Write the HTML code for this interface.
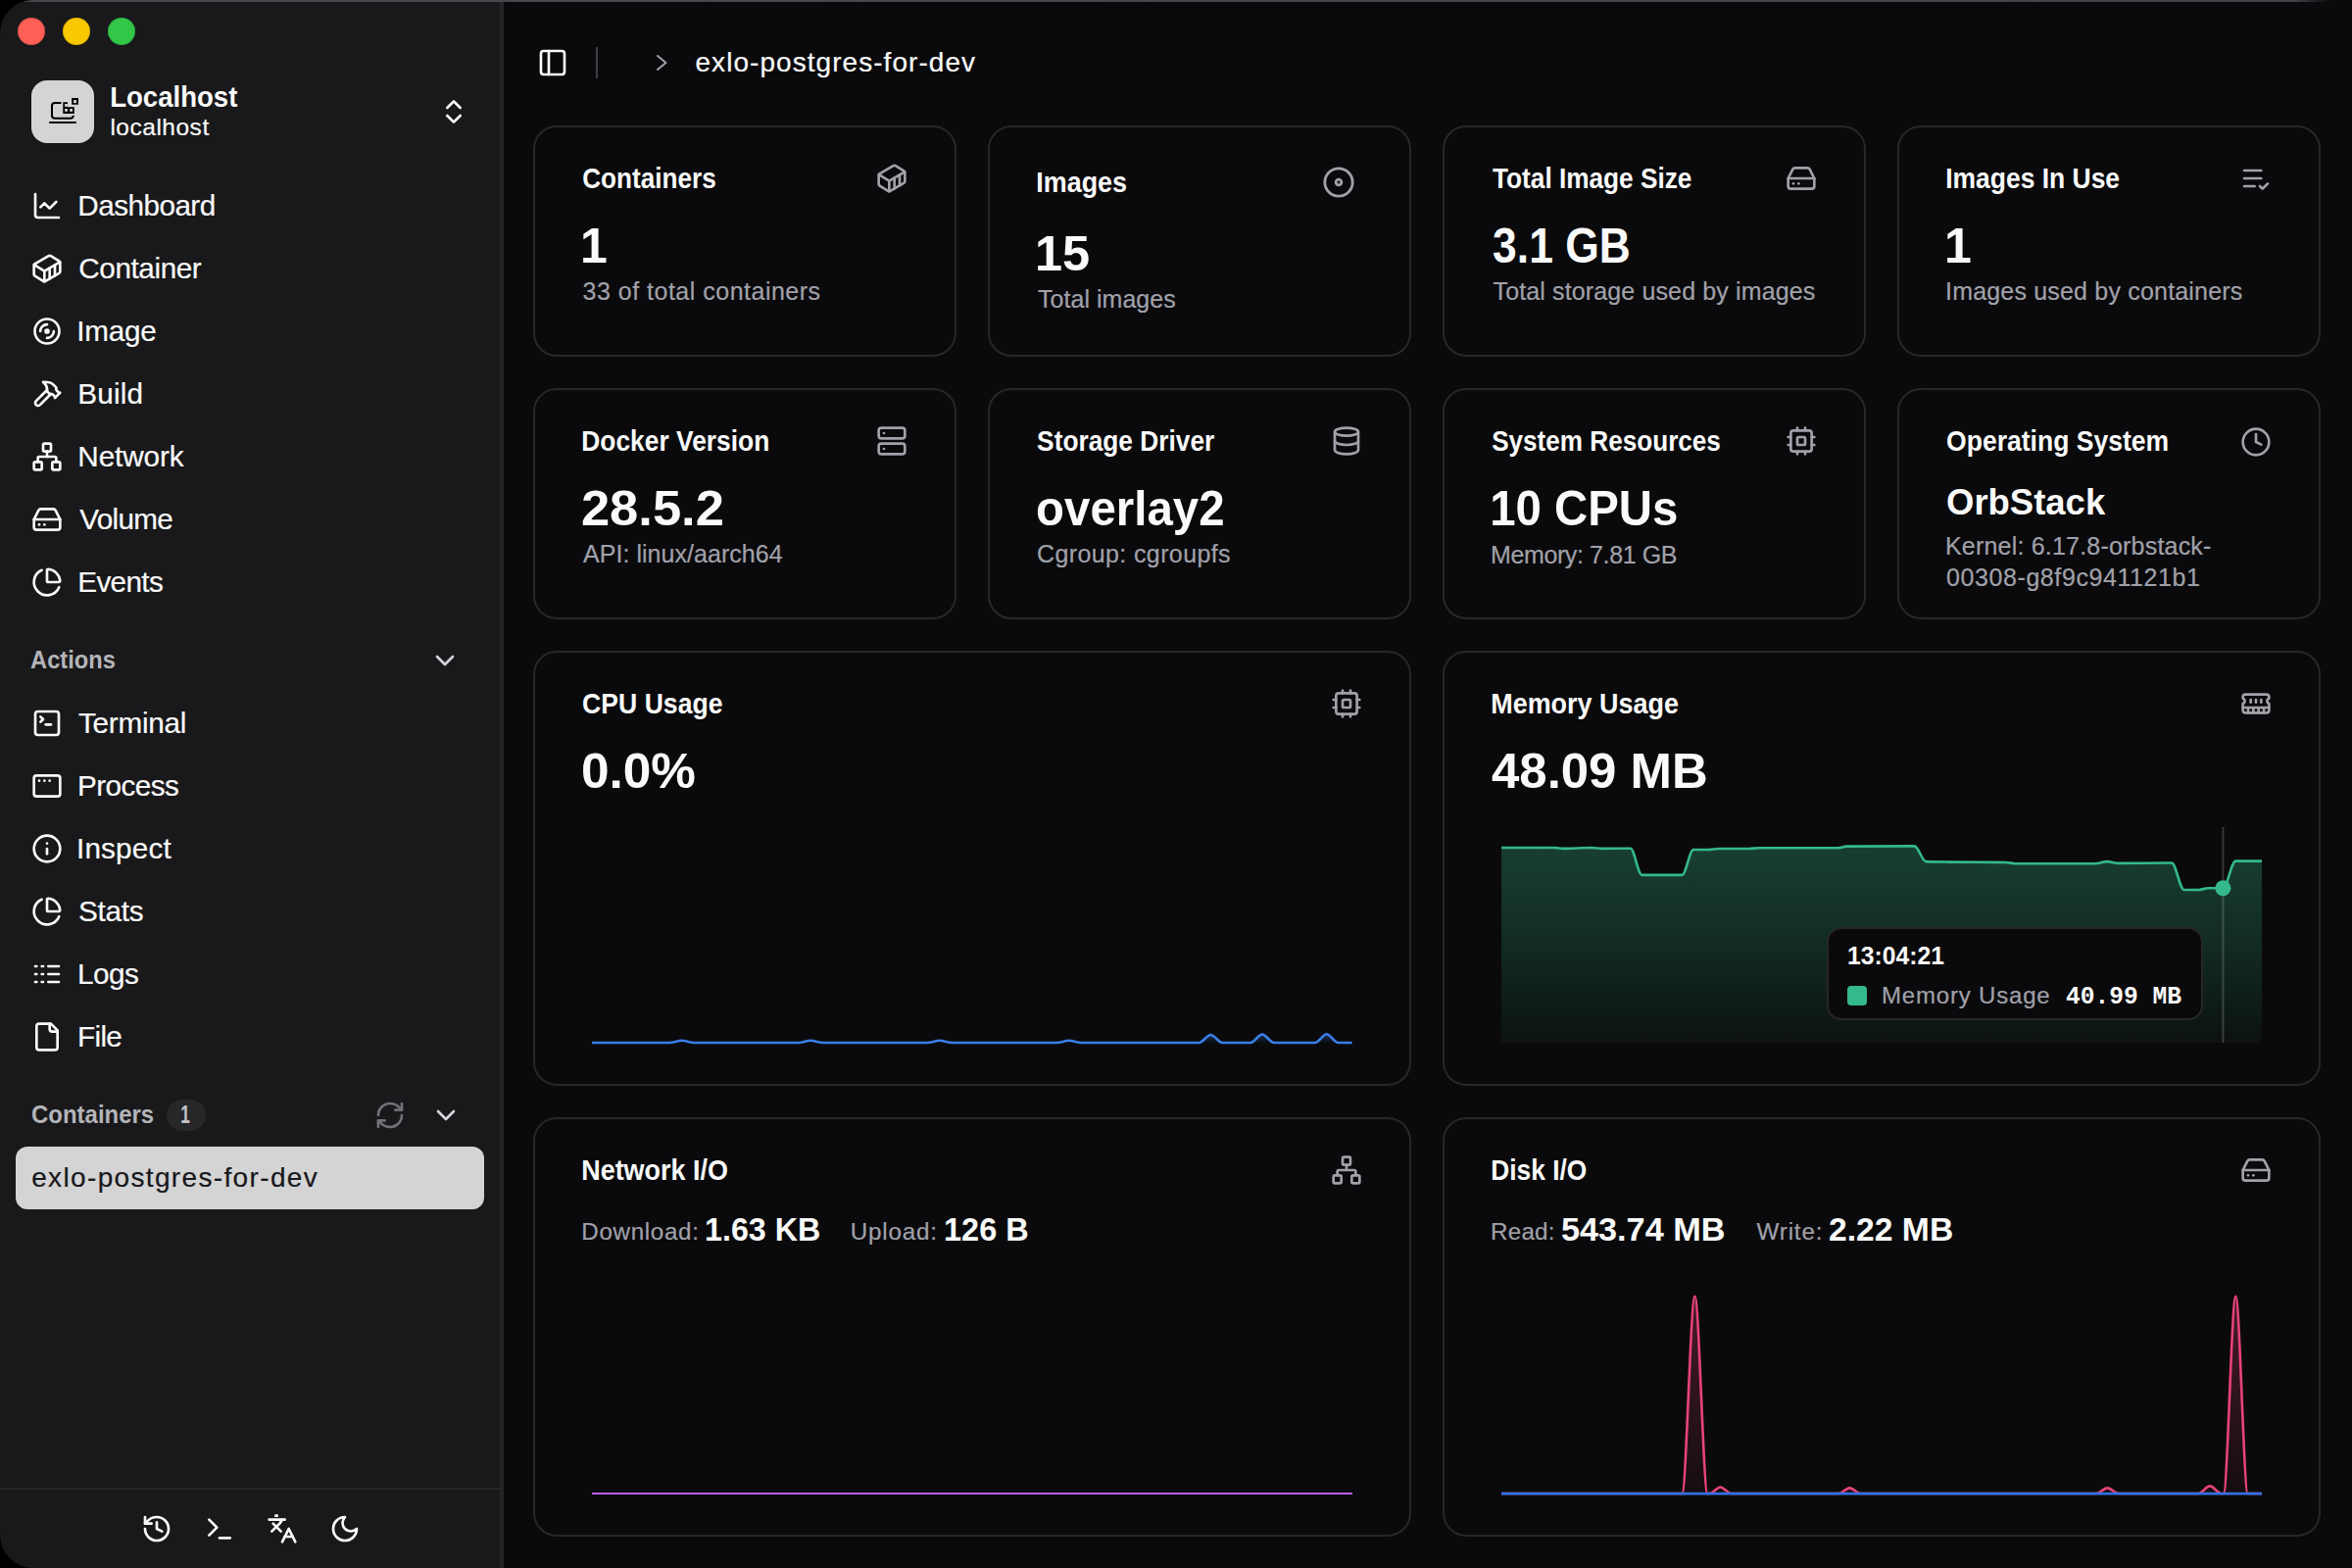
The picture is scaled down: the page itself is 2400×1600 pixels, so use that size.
<!DOCTYPE html>
<html><head><meta charset="utf-8"><title>Dashboard</title>
<style>
html,body{margin:0;padding:0;background:#000;width:2400px;height:1600px;overflow:hidden}
body{font-family:"Liberation Sans",sans-serif;}
.win{position:absolute;left:0;top:0;width:2400px;height:1600px;border-radius:34px 0 0 34px;overflow:hidden;background:#0a0a0c}
.abs,.tx,.ic,.card{position:absolute}
.tx{white-space:pre}
.card{box-sizing:border-box;border:2px solid #27272a;border-radius:24px;background:#0a0a0c}
</style></head><body>
<div class="win">
 <div class="abs" style="left:0;top:0;width:510px;height:1600px;background:#19191b"></div>
 <div class="abs" style="left:510px;top:0;width:4px;height:1600px;background:#262628"></div>
 <div class="abs" style="left:0;top:1518px;width:510px;height:2px;background:#262628"></div>
 <div class="abs" style="left:0;top:0;width:2400px;height:2px;background:linear-gradient(90deg,#2a2a2d 0px,#48484c 40px,#44444a 2340px,rgba(60,60,64,0) 2378px)"></div>
 <div class="abs" style="left:18px;top:18px;width:28px;height:28px;border-radius:50%;background:#ff5f57;box-shadow:inset 0 0 0 1px rgba(0,0,0,0.12)"></div>
 <div class="abs" style="left:64px;top:18px;width:28px;height:28px;border-radius:50%;background:#fac800;box-shadow:inset 0 0 0 1px rgba(0,0,0,0.1)"></div>
 <div class="abs" style="left:110px;top:18px;width:28px;height:28px;border-radius:50%;background:#33c748;box-shadow:inset 0 0 0 1px rgba(0,0,0,0.12)"></div>
 <div class="abs" style="left:32px;top:82px;width:64px;height:64px;border-radius:16px;background:#d4d4d4"></div>
 <svg class="abs" style="left:32px;top:82px" width="64" height="64" viewBox="32 82 64 64">
<path d="M61.7,105 H56 a3,3 0 0 0 -3,3 V117.7 a3,3 0 0 0 3,3 H71.8 a3,3 0 0 0 3,-3 V118.4" fill="none" stroke="#000" stroke-width="2" stroke-linecap="round"/>
<path d="M64.3,104.2 H69 V109.2 H75.8 V115.9 H64.3 Z" fill="#000"/>
<rect x="66.1" y="106" width="2.8" height="2.8" fill="#d4d4d4"/><rect x="66.1" y="111" width="2.8" height="2.8" fill="#d4d4d4"/><rect x="71.2" y="111" width="2.8" height="2.8" fill="#d4d4d4"/>
<rect x="73.2" y="100" width="6.7" height="6.7" fill="#000"/><rect x="75.1" y="102.1" width="2.9" height="3" fill="#d4d4d4"/>
<line x1="51" y1="125" x2="77" y2="125" stroke="#000" stroke-width="2" stroke-linecap="round"/>
</svg>
 <div class="abs" style="left:170px;top:1122px;width:40px;height:32px;border-radius:16px;background:#27272a"></div>
 <div class="abs" style="left:16px;top:1170px;width:478px;height:64px;border-radius:12px;background:#d4d4d4"></div>
 <div class="abs" style="left:608px;top:48px;width:2px;height:32px;background:#3f3f46"></div>
 <svg class="abs" style="left:660px;top:50px" width="30" height="30" viewBox="660 50 30 30"><polyline points="671,57 679.5,64 671,71" fill="none" stroke="#a1a1aa" stroke-width="2" stroke-linecap="round" stroke-linejoin="round"/></svg>
 <div class="card" style="left:544px;top:128px;width:432px;height:236px"></div>
<div class="card" style="left:544px;top:396px;width:432px;height:236px"></div>
<div class="card" style="left:1008px;top:128px;width:432px;height:236px"></div>
<div class="card" style="left:1008px;top:396px;width:432px;height:236px"></div>
<div class="card" style="left:1472px;top:128px;width:432px;height:236px"></div>
<div class="card" style="left:1472px;top:396px;width:432px;height:236px"></div>
<div class="card" style="left:1936px;top:128px;width:432px;height:236px"></div>
<div class="card" style="left:1936px;top:396px;width:432px;height:236px"></div>
<div class="card" style="left:544px;top:664px;width:896px;height:444px"></div>
<div class="card" style="left:1472px;top:664px;width:896px;height:444px"></div>
<div class="card" style="left:544px;top:1140px;width:896px;height:428px"></div>
<div class="card" style="left:1472px;top:1140px;width:896px;height:428px"></div>
 
<svg class="abs" style="left:0;top:0" width="2400" height="1600" viewBox="0 0 2400 1600">
 <defs>
  <linearGradient id="gm" x1="0" y1="863" x2="0" y2="1064" gradientUnits="userSpaceOnUse">
   <stop offset="0" stop-color="#183f32"/><stop offset="0.5" stop-color="#122b23"/><stop offset="1" stop-color="#0c1210"/>
  </linearGradient>
  <linearGradient id="gd" x1="0" y1="1322" x2="0" y2="1524" gradientUnits="userSpaceOnUse">
   <stop offset="0" stop-color="#e8437a" stop-opacity="0.28"/><stop offset="1" stop-color="#e8437a" stop-opacity="0.05"/>
  </linearGradient>
  <linearGradient id="gc" x1="0" y1="1055" x2="0" y2="1064" gradientUnits="userSpaceOnUse">
   <stop offset="0" stop-color="#3a7ee8" stop-opacity="0.35"/><stop offset="1" stop-color="#3a7ee8" stop-opacity="0.02"/>
  </linearGradient>
 </defs>
 <path d="M604.00,1064.00 C630.33,1064.00 656.67,1064.00 683.00,1064.00 C687.23,1064.00 691.47,1061.80 695.70,1061.80 C699.93,1061.80 704.17,1064.00 708.40,1064.00 C743.77,1064.00 779.13,1064.00 814.50,1064.00 C818.73,1064.00 822.97,1061.80 827.20,1061.80 C831.43,1061.80 835.67,1064.00 839.90,1064.00 C875.30,1064.00 910.70,1064.00 946.10,1064.00 C950.33,1064.00 954.57,1061.80 958.80,1061.80 C963.03,1061.80 967.27,1064.00 971.50,1064.00 C1007.03,1064.00 1042.57,1064.00 1078.10,1064.00 C1082.33,1064.00 1086.57,1061.80 1090.80,1061.80 C1095.03,1061.80 1099.27,1064.00 1103.50,1064.00 C1143.47,1064.00 1183.43,1064.00 1223.40,1064.00 C1227.40,1064.00 1231.40,1056.00 1235.40,1056.00 C1239.40,1056.00 1243.40,1064.00 1247.40,1064.00 C1256.93,1064.00 1266.47,1064.00 1276.00,1064.00 C1280.00,1064.00 1284.00,1055.50 1288.00,1055.50 C1292.00,1055.50 1296.00,1064.00 1300.00,1064.00 C1313.97,1064.00 1327.93,1064.00 1341.90,1064.00 C1345.83,1064.00 1349.77,1055.20 1353.70,1055.20 C1357.63,1055.20 1361.57,1064.00 1365.50,1064.00 C1370.20,1064.00 1374.90,1064.00 1379.60,1064.00 Z" fill="url(#gc)" stroke="none"/>
 <path d="M604.00,1064.00 C630.33,1064.00 656.67,1064.00 683.00,1064.00 C687.23,1064.00 691.47,1061.80 695.70,1061.80 C699.93,1061.80 704.17,1064.00 708.40,1064.00 C743.77,1064.00 779.13,1064.00 814.50,1064.00 C818.73,1064.00 822.97,1061.80 827.20,1061.80 C831.43,1061.80 835.67,1064.00 839.90,1064.00 C875.30,1064.00 910.70,1064.00 946.10,1064.00 C950.33,1064.00 954.57,1061.80 958.80,1061.80 C963.03,1061.80 967.27,1064.00 971.50,1064.00 C1007.03,1064.00 1042.57,1064.00 1078.10,1064.00 C1082.33,1064.00 1086.57,1061.80 1090.80,1061.80 C1095.03,1061.80 1099.27,1064.00 1103.50,1064.00 C1143.47,1064.00 1183.43,1064.00 1223.40,1064.00 C1227.40,1064.00 1231.40,1056.00 1235.40,1056.00 C1239.40,1056.00 1243.40,1064.00 1247.40,1064.00 C1256.93,1064.00 1266.47,1064.00 1276.00,1064.00 C1280.00,1064.00 1284.00,1055.50 1288.00,1055.50 C1292.00,1055.50 1296.00,1064.00 1300.00,1064.00 C1313.97,1064.00 1327.93,1064.00 1341.90,1064.00 C1345.83,1064.00 1349.77,1055.20 1353.70,1055.20 C1357.63,1055.20 1361.57,1064.00 1365.50,1064.00 C1370.20,1064.00 1374.90,1064.00 1379.60,1064.00" fill="none" stroke="#3a7ee8" stroke-width="2.6" stroke-linejoin="round" stroke-linecap="butt"/>
 <path d="M1532.10,865.00 C1550.07,865.00 1568.03,865.00 1586.00,865.00 C1589.00,865.00 1592.00,865.90 1595.00,865.90 C1604.53,865.90 1614.07,865.00 1623.60,865.00 C1627.73,865.00 1631.87,865.90 1636.00,865.90 C1645.25,865.90 1654.50,865.70 1663.75,865.70 C1667.63,865.70 1671.52,892.90 1675.40,892.90 C1689.07,892.90 1702.73,892.90 1716.40,892.90 C1720.27,892.90 1724.13,867.00 1728.00,867.00 C1733.07,867.00 1738.13,867.00 1743.20,867.00 C1746.80,867.00 1750.40,866.00 1754.00,866.00 C1764.10,866.00 1774.20,866.00 1784.30,866.00 C1787.87,866.00 1791.43,865.20 1795.00,865.20 C1821.80,865.20 1848.60,865.20 1875.40,865.20 C1878.37,865.20 1881.33,863.62 1884.30,863.60 C1907.40,863.47 1930.50,863.40 1953.60,863.40 C1957.47,863.40 1961.33,878.94 1965.20,879.10 C1973.23,879.43 1981.27,879.49 1989.30,879.60 C2008.33,879.87 2027.37,879.73 2046.40,880.00 C2049.97,880.05 2053.53,881.25 2057.10,881.25 C2083.90,881.25 2110.70,881.25 2137.50,881.25 C2141.67,881.25 2145.83,879.10 2150.00,879.10 C2153.87,879.10 2157.73,880.90 2161.60,880.90 C2179.73,880.90 2197.87,880.50 2216.00,880.50 C2220.20,880.50 2224.40,908.00 2228.60,908.00 C2233.37,908.00 2238.13,908.00 2242.90,908.00 C2246.47,908.00 2250.03,906.25 2253.60,906.25 C2258.53,906.25 2263.47,906.25 2268.40,906.25 C2272.68,906.25 2276.97,878.60 2281.25,878.60 C2290.17,878.60 2299.08,878.60 2308.00,878.60 L2308,1064 L1532.1,1064 Z" fill="url(#gm)"/>
 <line x1="2268.4" y1="844" x2="2268.4" y2="1064" stroke="rgba(161,161,170,0.3)" stroke-width="2"/>
 <path d="M1532.10,865.00 C1550.07,865.00 1568.03,865.00 1586.00,865.00 C1589.00,865.00 1592.00,865.90 1595.00,865.90 C1604.53,865.90 1614.07,865.00 1623.60,865.00 C1627.73,865.00 1631.87,865.90 1636.00,865.90 C1645.25,865.90 1654.50,865.70 1663.75,865.70 C1667.63,865.70 1671.52,892.90 1675.40,892.90 C1689.07,892.90 1702.73,892.90 1716.40,892.90 C1720.27,892.90 1724.13,867.00 1728.00,867.00 C1733.07,867.00 1738.13,867.00 1743.20,867.00 C1746.80,867.00 1750.40,866.00 1754.00,866.00 C1764.10,866.00 1774.20,866.00 1784.30,866.00 C1787.87,866.00 1791.43,865.20 1795.00,865.20 C1821.80,865.20 1848.60,865.20 1875.40,865.20 C1878.37,865.20 1881.33,863.62 1884.30,863.60 C1907.40,863.47 1930.50,863.40 1953.60,863.40 C1957.47,863.40 1961.33,878.94 1965.20,879.10 C1973.23,879.43 1981.27,879.49 1989.30,879.60 C2008.33,879.87 2027.37,879.73 2046.40,880.00 C2049.97,880.05 2053.53,881.25 2057.10,881.25 C2083.90,881.25 2110.70,881.25 2137.50,881.25 C2141.67,881.25 2145.83,879.10 2150.00,879.10 C2153.87,879.10 2157.73,880.90 2161.60,880.90 C2179.73,880.90 2197.87,880.50 2216.00,880.50 C2220.20,880.50 2224.40,908.00 2228.60,908.00 C2233.37,908.00 2238.13,908.00 2242.90,908.00 C2246.47,908.00 2250.03,906.25 2253.60,906.25 C2258.53,906.25 2263.47,906.25 2268.40,906.25 C2272.68,906.25 2276.97,878.60 2281.25,878.60 C2290.17,878.60 2299.08,878.60 2308.00,878.60" fill="none" stroke="#34b98a" stroke-width="2.6" stroke-linejoin="round"/>
 <circle cx="2268.4" cy="906.25" r="8" fill="#34b98a"/>
 <line x1="604" y1="1524" x2="1380" y2="1524" stroke="#bd5ef0" stroke-width="2.2"/>
 <path d="M1532.00,1524.00 C1593.47,1524.00 1654.93,1524.00 1716.40,1524.00 C1720.73,1524.00 1725.07,1322.70 1729.40,1322.70 C1733.73,1322.70 1738.07,1524.00 1742.40,1524.00 C1743.10,1524.00 1743.80,1524.00 1744.50,1524.00 C1748.17,1524.00 1751.83,1517.50 1755.50,1517.50 C1759.17,1517.50 1762.83,1524.00 1766.50,1524.00 C1803.03,1524.00 1839.57,1524.00 1876.10,1524.00 C1879.87,1524.00 1883.63,1518.40 1887.40,1518.40 C1891.17,1518.40 1894.93,1524.00 1898.70,1524.00 C1978.70,1524.00 2058.70,1524.00 2138.70,1524.00 C2142.60,1524.00 2146.50,1518.40 2150.40,1518.40 C2154.30,1518.40 2158.20,1524.00 2162.10,1524.00 C2189.17,1524.00 2216.23,1524.00 2243.30,1524.00 C2247.20,1524.00 2251.10,1516.40 2255.00,1516.40 C2258.90,1516.40 2262.80,1524.00 2266.70,1524.00 C2267.43,1524.00 2268.17,1524.00 2268.90,1524.00 C2273.03,1524.00 2277.17,1322.70 2281.30,1322.70 C2285.43,1322.70 2289.57,1524.00 2293.70,1524.00 C2298.47,1524.00 2303.23,1524.00 2308.00,1524.00 Z" fill="url(#gd)" stroke="none"/>
 <path d="M1532.00,1524.00 C1593.47,1524.00 1654.93,1524.00 1716.40,1524.00 C1720.73,1524.00 1725.07,1322.70 1729.40,1322.70 C1733.73,1322.70 1738.07,1524.00 1742.40,1524.00 C1743.10,1524.00 1743.80,1524.00 1744.50,1524.00 C1748.17,1524.00 1751.83,1517.50 1755.50,1517.50 C1759.17,1517.50 1762.83,1524.00 1766.50,1524.00 C1803.03,1524.00 1839.57,1524.00 1876.10,1524.00 C1879.87,1524.00 1883.63,1518.40 1887.40,1518.40 C1891.17,1518.40 1894.93,1524.00 1898.70,1524.00 C1978.70,1524.00 2058.70,1524.00 2138.70,1524.00 C2142.60,1524.00 2146.50,1518.40 2150.40,1518.40 C2154.30,1518.40 2158.20,1524.00 2162.10,1524.00 C2189.17,1524.00 2216.23,1524.00 2243.30,1524.00 C2247.20,1524.00 2251.10,1516.40 2255.00,1516.40 C2258.90,1516.40 2262.80,1524.00 2266.70,1524.00 C2267.43,1524.00 2268.17,1524.00 2268.90,1524.00 C2273.03,1524.00 2277.17,1322.70 2281.30,1322.70 C2285.43,1322.70 2289.57,1524.00 2293.70,1524.00 C2298.47,1524.00 2303.23,1524.00 2308.00,1524.00" fill="none" stroke="#e8437a" stroke-width="2.6" stroke-linejoin="round"/>
 <line x1="1532" y1="1524.2" x2="2308" y2="1524.2" stroke="#3470e0" stroke-width="2.8"/>
</svg>

 <div class="abs" style="left:1864px;top:946px;width:384px;height:95px;box-sizing:border-box;border:2px solid #27272a;border-radius:15px;background:#0a0a0c"></div>
 <div class="abs" style="left:1885px;top:1006px;width:20px;height:20px;border-radius:4px;background:#34b98a"></div>
 <svg class="ic" style="left:31.5px;top:193.5px;width:32px;height:32px" viewBox="0 0 24 24" fill="none" stroke="#fafafa" color="#fafafa" stroke-width="2" stroke-linecap="round" stroke-linejoin="round"><path d="M3 3v16a2 2 0 0 0 2 2h16"/><path d="m19 9-5 5-4-4-3 3"/></svg>
<svg class="ic" style="left:31.5px;top:257.5px;width:32px;height:32px" viewBox="0 0 24 24" fill="none" stroke="#fafafa" color="#fafafa" stroke-width="2" stroke-linecap="round" stroke-linejoin="round"><path d="M22 7.7c0-.6-.4-1.2-.8-1.5l-6.3-3.9a1.72 1.72 0 0 0-1.7 0l-10.3 6c-.5.2-.9.8-.9 1.4v6.6c0 .5.4 1.2.8 1.5l6.3 3.9a1.72 1.72 0 0 0 1.7 0l10.3-6c.5-.3.9-1 .9-1.5Z"/><path d="M10 21.9V14L2.1 9.1"/><path d="m10 14 11.9-6.9"/><path d="M14 19.8v-8.1"/><path d="M18 17.5V9.4"/></svg>
<svg class="ic" style="left:33.1px;top:323.1px;width:30px;height:30px" viewBox="0 0 24 24" fill="none" stroke="#fafafa" color="#fafafa" stroke-width="2.1" stroke-linecap="round" stroke-linejoin="round"><circle cx="12" cy="12" r="10"/><path d="M6.5 12a5.5 5.5 0 0 1 5.5-5.5"/><circle cx="12" cy="12" r="1.2" fill="currentColor"/><path d="M17.5 12a5.5 5.5 0 0 1-5.5 5.5"/></svg>
<svg class="ic" style="left:31.5px;top:385.5px;width:32px;height:32px" viewBox="0 0 24 24" fill="none" stroke="#fafafa" color="#fafafa" stroke-width="2" stroke-linecap="round" stroke-linejoin="round"><path d="m15 12-8.373 8.373a1 1 0 1 1-3-3L12 9"/><path d="m18 15 4-4"/><path d="m21.5 11.5-1.914-1.914A2 2 0 0 1 19 8.172V7l-2.26-2.26a6 6 0 0 0-4.202-1.756L9 2.96l.92.82A6.18 6.18 0 0 1 12 8.4V10l2 2h1.172a2 2 0 0 1 1.414.586L18.5 14.5"/></svg>
<svg class="ic" style="left:31.5px;top:449.5px;width:32px;height:32px" viewBox="0 0 24 24" fill="none" stroke="#fafafa" color="#fafafa" stroke-width="2" stroke-linecap="round" stroke-linejoin="round"><rect x="16" y="16" width="6" height="6" rx="1"/><rect x="2" y="16" width="6" height="6" rx="1"/><rect x="9" y="2" width="6" height="6" rx="1"/><path d="M5 16v-3a1 1 0 0 1 1-1h12a1 1 0 0 1 1 1v3"/><path d="M12 12V8"/></svg>
<svg class="ic" style="left:31.5px;top:513.5px;width:32px;height:32px" viewBox="0 0 24 24" fill="none" stroke="#fafafa" color="#fafafa" stroke-width="2" stroke-linecap="round" stroke-linejoin="round"><line x1="22" x2="2" y1="12" y2="12"/><path d="M5.45 5.11 2 12v6a2 2 0 0 0 2 2h16a2 2 0 0 0 2-2v-6l-3.45-6.89A2 2 0 0 0 16.76 4H7.24a2 2 0 0 0-1.79 1.11z"/><line x1="6" x2="6.01" y1="16" y2="16"/><line x1="10" x2="10.01" y1="16" y2="16"/></svg>
<svg class="ic" style="left:31.5px;top:577.5px;width:32px;height:32px" viewBox="0 0 24 24" fill="none" stroke="#fafafa" color="#fafafa" stroke-width="2" stroke-linecap="round" stroke-linejoin="round"><path d="M21 12c.552 0 1.005-.449.95-.998a10 10 0 0 0-8.953-8.951c-.55-.055-.998.398-.998.95v8a1 1 0 0 0 1 1z"/><path d="M21.21 15.89A10 10 0 1 1 8 2.83"/></svg>
<svg class="ic" style="left:31.5px;top:722.0px;width:32px;height:32px" viewBox="0 0 24 24" fill="none" stroke="#fafafa" color="#fafafa" stroke-width="2" stroke-linecap="round" stroke-linejoin="round"><path d="m7 11 2-2-2-2"/><path d="M11 13h4"/><rect width="18" height="18" x="3" y="3" rx="2" ry="2"/></svg>
<svg class="ic" style="left:31.5px;top:786.0px;width:32px;height:32px" viewBox="0 0 24 24" fill="none" stroke="#fafafa" color="#fafafa" stroke-width="2" stroke-linecap="round" stroke-linejoin="round"><rect width="20" height="16" x="2" y="4" rx="2"/><path d="M6 8h.01"/><path d="M10 8h.01"/><path d="M14 8h.01"/></svg>
<svg class="ic" style="left:31.5px;top:850.0px;width:32px;height:32px" viewBox="0 0 24 24" fill="none" stroke="#fafafa" color="#fafafa" stroke-width="2" stroke-linecap="round" stroke-linejoin="round"><circle cx="12" cy="12" r="10"/><path d="M12 16v-4"/><path d="M12 8h.01"/></svg>
<svg class="ic" style="left:31.5px;top:914.0px;width:32px;height:32px" viewBox="0 0 24 24" fill="none" stroke="#fafafa" color="#fafafa" stroke-width="2" stroke-linecap="round" stroke-linejoin="round"><path d="M21 12c.552 0 1.005-.449.95-.998a10 10 0 0 0-8.953-8.951c-.55-.055-.998.398-.998.95v8a1 1 0 0 0 1 1z"/><path d="M21.21 15.89A10 10 0 1 1 8 2.83"/></svg>
<svg class="ic" style="left:31.5px;top:978.0px;width:32px;height:32px" viewBox="0 0 24 24" fill="none" stroke="#fafafa" color="#fafafa" stroke-width="2" stroke-linecap="round" stroke-linejoin="round"><path d="M13 12h8"/><path d="M13 18h8"/><path d="M13 6h8"/><path d="M3 12h1"/><path d="M3 18h1"/><path d="M3 6h1"/><path d="M8 12h1"/><path d="M8 18h1"/><path d="M8 6h1"/></svg>
<svg class="ic" style="left:31.5px;top:1042.0px;width:32px;height:32px" viewBox="0 0 24 24" fill="none" stroke="#fafafa" color="#fafafa" stroke-width="2" stroke-linecap="round" stroke-linejoin="round"><path d="M15 2H6a2 2 0 0 0-2 2v16a2 2 0 0 0 2 2h12a2 2 0 0 0 2-2V7Z"/><path d="M14 2v4a2 2 0 0 0 2 2h4"/></svg>
<svg class="ic" style="left:446.5px;top:98.0px;width:32px;height:32px" viewBox="0 0 24 24" fill="none" stroke="#fafafa" color="#fafafa" stroke-width="2" stroke-linecap="round" stroke-linejoin="round"><path d="m7 15 5 5 5-5"/><path d="m7 9 5-5 5 5"/></svg>
<svg class="ic" style="left:438.0px;top:658.0px;width:32px;height:32px" viewBox="0 0 24 24" fill="none" stroke="#d4d4d8" color="#d4d4d8" stroke-width="2" stroke-linecap="round" stroke-linejoin="round"><path d="m6 9 6 6 6-6"/></svg>
<svg class="ic" style="left:438.5px;top:1121.5px;width:32px;height:32px" viewBox="0 0 24 24" fill="none" stroke="#d4d4d8" color="#d4d4d8" stroke-width="2" stroke-linecap="round" stroke-linejoin="round"><path d="m6 9 6 6 6-6"/></svg>
<svg class="ic" style="left:381.5px;top:1121.5px;width:32px;height:32px" viewBox="0 0 24 24" fill="none" stroke="#71717a" color="#71717a" stroke-width="2" stroke-linecap="round" stroke-linejoin="round"><path d="M3 12a9 9 0 0 1 9-9 9.75 9.75 0 0 1 6.74 2.74L21 8"/><path d="M21 3v5h-5"/><path d="M21 12a9 9 0 0 1-9 9 9.75 9.75 0 0 1-6.74-2.74L3 16"/><path d="M8 16H3v5"/></svg>
<svg class="ic" style="left:144.0px;top:1544.0px;width:32px;height:32px" viewBox="0 0 24 24" fill="none" stroke="#fafafa" color="#fafafa" stroke-width="2" stroke-linecap="round" stroke-linejoin="round"><path d="M3 12a9 9 0 1 0 9-9 9.75 9.75 0 0 0-6.74 2.74L3 8"/><path d="M3 3v5h5"/><path d="M12 7v5l4 2"/></svg>
<svg class="ic" style="left:208.0px;top:1544.0px;width:32px;height:32px" viewBox="0 0 24 24" fill="none" stroke="#fafafa" color="#fafafa" stroke-width="2" stroke-linecap="round" stroke-linejoin="round"><polyline points="4 17 10 11 4 5"/><line x1="12" x2="20" y1="19" y2="19"/></svg>
<svg class="ic" style="left:272.0px;top:1544.0px;width:32px;height:32px" viewBox="0 0 24 24" fill="none" stroke="#fafafa" color="#fafafa" stroke-width="2" stroke-linecap="round" stroke-linejoin="round"><path d="m5 8 6 6"/><path d="m4 14 6-6 2-3"/><path d="M2 5h12"/><path d="M7 2h1"/><path d="m22 22-5-10-5 10"/><path d="M14 18h6"/></svg>
<svg class="ic" style="left:336.0px;top:1544.0px;width:32px;height:32px" viewBox="0 0 24 24" fill="none" stroke="#fafafa" color="#fafafa" stroke-width="2" stroke-linecap="round" stroke-linejoin="round"><path d="M12 3a6 6 0 0 0 9 9 9 9 0 1 1-9-9Z"/></svg>
<svg class="ic" style="left:548.25px;top:47.5px;width:32px;height:32px" viewBox="0 0 24 24" fill="none" stroke="#fafafa" color="#fafafa" stroke-width="2" stroke-linecap="round" stroke-linejoin="round"><rect width="18" height="18" x="3" y="3" rx="2"/><path d="M9 3v18"/></svg>
<svg class="ic" style="left:894.0px;top:165.5px;width:32px;height:32px" viewBox="0 0 24 24" fill="none" stroke="#a1a1aa" color="#a1a1aa" stroke-width="2" stroke-linecap="round" stroke-linejoin="round"><path d="M22 7.7c0-.6-.4-1.2-.8-1.5l-6.3-3.9a1.72 1.72 0 0 0-1.7 0l-10.3 6c-.5.2-.9.8-.9 1.4v6.6c0 .5.4 1.2.8 1.5l6.3 3.9a1.72 1.72 0 0 0 1.7 0l10.3-6c.5-.3.9-1 .9-1.5Z"/><path d="M10 21.9V14L2.1 9.1"/><path d="m10 14 11.9-6.9"/><path d="M14 19.8v-8.1"/><path d="M18 17.5V9.4"/></svg>
<svg class="ic" style="left:1349.0px;top:169.0px;width:34px;height:34px" viewBox="0 0 24 24" fill="none" stroke="#a1a1aa" color="#a1a1aa" stroke-width="2" stroke-linecap="round" stroke-linejoin="round"><circle cx="12" cy="12" r="10"/><circle cx="12" cy="12" r="2"/></svg>
<svg class="ic" style="left:1822.0px;top:165.5px;width:32px;height:32px" viewBox="0 0 24 24" fill="none" stroke="#a1a1aa" color="#a1a1aa" stroke-width="2" stroke-linecap="round" stroke-linejoin="round"><line x1="22" x2="2" y1="12" y2="12"/><path d="M5.45 5.11 2 12v6a2 2 0 0 0 2 2h16a2 2 0 0 0 2-2v-6l-3.45-6.89A2 2 0 0 0 16.76 4H7.24a2 2 0 0 0-1.79 1.11z"/><line x1="6" x2="6.01" y1="16" y2="16"/><line x1="10" x2="10.01" y1="16" y2="16"/></svg>
<svg class="ic" style="left:2286.0px;top:165.5px;width:32px;height:32px" viewBox="0 0 24 24" fill="none" stroke="#a1a1aa" color="#a1a1aa" stroke-width="2" stroke-linecap="round" stroke-linejoin="round"><path d="M11 18H3"/><path d="m15 18 2 2 4-4"/><path d="M16 12H3"/><path d="M16 6H3"/></svg>
<svg class="ic" style="left:894.0px;top:433.5px;width:32px;height:32px" viewBox="0 0 24 24" fill="none" stroke="#a1a1aa" color="#a1a1aa" stroke-width="2" stroke-linecap="round" stroke-linejoin="round"><rect width="20" height="8" x="2" y="2" rx="2" ry="2"/><rect width="20" height="8" x="2" y="14" rx="2" ry="2"/><line x1="6" x2="6.01" y1="6" y2="6"/><line x1="6" x2="6.01" y1="18" y2="18"/></svg>
<svg class="ic" style="left:1357.5px;top:433.5px;width:32px;height:32px" viewBox="0 0 24 24" fill="none" stroke="#a1a1aa" color="#a1a1aa" stroke-width="2" stroke-linecap="round" stroke-linejoin="round"><ellipse cx="12" cy="5" rx="9" ry="3"/><path d="M3 5V19A9 3 0 0 0 21 19V5"/><path d="M3 12A9 3 0 0 0 21 12"/></svg>
<svg class="ic" style="left:1821.75px;top:434.0px;width:32px;height:32px" viewBox="0 0 24 24" fill="none" stroke="#a1a1aa" color="#a1a1aa" stroke-width="2" stroke-linecap="round" stroke-linejoin="round"><rect width="16" height="16" x="4" y="4" rx="2"/><rect width="6" height="6" x="9" y="9" rx="1"/><path d="M15 2v2"/><path d="M15 20v2"/><path d="M2 15h2"/><path d="M2 9h2"/><path d="M20 15h2"/><path d="M20 9h2"/><path d="M9 2v2"/><path d="M9 20v2"/></svg>
<svg class="ic" style="left:2285.75px;top:434.5px;width:32px;height:32px" viewBox="0 0 24 24" fill="none" stroke="#a1a1aa" color="#a1a1aa" stroke-width="2" stroke-linecap="round" stroke-linejoin="round"><circle cx="12" cy="12" r="10"/><polyline points="12 6 12 12 16 14"/></svg>
<svg class="ic" style="left:1357.5px;top:702.0px;width:32px;height:32px" viewBox="0 0 24 24" fill="none" stroke="#a1a1aa" color="#a1a1aa" stroke-width="2" stroke-linecap="round" stroke-linejoin="round"><rect width="16" height="16" x="4" y="4" rx="2"/><rect width="6" height="6" x="9" y="9" rx="1"/><path d="M15 2v2"/><path d="M15 20v2"/><path d="M2 15h2"/><path d="M2 9h2"/><path d="M20 15h2"/><path d="M20 9h2"/><path d="M9 2v2"/><path d="M9 20v2"/></svg>
<svg class="ic" style="left:2285.75px;top:702.0px;width:32px;height:32px" viewBox="0 0 24 24" fill="none" stroke="#a1a1aa" color="#a1a1aa" stroke-width="2" stroke-linecap="round" stroke-linejoin="round"><path d="M6 19v-3"/><path d="M10 19v-3"/><path d="M14 19v-3"/><path d="M18 19v-3"/><path d="M8 11V9"/><path d="M16 11V9"/><path d="M12 11V9"/><path d="M2 15h20"/><path d="M2 7a2 2 0 0 1 2-2h16a2 2 0 0 1 2 2v1.1a2 2 0 0 0 0 3.837V17a2 2 0 0 1-2 2H4a2 2 0 0 1-2-2v-5.1a2 2 0 0 0 0-3.837Z"/></svg>
<svg class="ic" style="left:1358.0px;top:1178.0px;width:32px;height:32px" viewBox="0 0 24 24" fill="none" stroke="#a1a1aa" color="#a1a1aa" stroke-width="2" stroke-linecap="round" stroke-linejoin="round"><rect x="16" y="16" width="6" height="6" rx="1"/><rect x="2" y="16" width="6" height="6" rx="1"/><rect x="9" y="2" width="6" height="6" rx="1"/><path d="M5 16v-3a1 1 0 0 1 1-1h12a1 1 0 0 1 1 1v3"/><path d="M12 12V8"/></svg>
<svg class="ic" style="left:2285.75px;top:1177.5px;width:32px;height:32px" viewBox="0 0 24 24" fill="none" stroke="#a1a1aa" color="#a1a1aa" stroke-width="2" stroke-linecap="round" stroke-linejoin="round"><line x1="22" x2="2" y1="12" y2="12"/><path d="M5.45 5.11 2 12v6a2 2 0 0 0 2 2h16a2 2 0 0 0 2-2v-6l-3.45-6.89A2 2 0 0 0 16.76 4H7.24a2 2 0 0 0-1.79 1.11z"/><line x1="6" x2="6.01" y1="16" y2="16"/><line x1="10" x2="10.01" y1="16" y2="16"/></svg>
 <div class="tx" style="left:111.60px;top:84.30px;font-size:29.6px;line-height:29.6px;font-weight:700;color:#fafafa;transform:scaleX(0.9319);transform-origin:2.0px 0;">Localhost</div>
<div class="tx" style="left:112.40px;top:118.00px;font-size:24.5px;line-height:24.5px;font-weight:400;color:#fafafa;letter-spacing:0.512px;-webkit-text-stroke:0.2px #fafafa;">localhost</div>
<div class="tx" style="left:79.30px;top:194.80px;font-size:29.7px;line-height:29.7px;font-weight:400;color:#fafafa;letter-spacing:-0.538px;-webkit-text-stroke:0.2px #fafafa;">Dashboard</div>
<div class="tx" style="left:80.30px;top:258.80px;font-size:29.7px;line-height:29.7px;font-weight:400;color:#fafafa;letter-spacing:-0.412px;-webkit-text-stroke:0.2px #fafafa;">Container</div>
<div class="tx" style="left:78.30px;top:322.80px;font-size:29.7px;line-height:29.7px;font-weight:400;color:#fafafa;letter-spacing:-0.250px;-webkit-text-stroke:0.2px #fafafa;">Image</div>
<div class="tx" style="left:79.30px;top:386.80px;font-size:29.7px;line-height:29.7px;font-weight:400;color:#fafafa;letter-spacing:0.150px;-webkit-text-stroke:0.2px #fafafa;">Build</div>
<div class="tx" style="left:79.30px;top:450.80px;font-size:29.7px;line-height:29.7px;font-weight:400;color:#fafafa;letter-spacing:-0.100px;-webkit-text-stroke:0.2px #fafafa;">Network</div>
<div class="tx" style="left:81.30px;top:514.80px;font-size:29.7px;line-height:29.7px;font-weight:400;color:#fafafa;letter-spacing:-0.720px;-webkit-text-stroke:0.2px #fafafa;">Volume</div>
<div class="tx" style="left:79.30px;top:578.80px;font-size:29.7px;line-height:29.7px;font-weight:400;color:#fafafa;letter-spacing:-0.660px;-webkit-text-stroke:0.2px #fafafa;">Events</div>
<div class="tx" style="left:80.00px;top:723.00px;font-size:29.7px;line-height:29.7px;font-weight:400;color:#fafafa;letter-spacing:-0.257px;-webkit-text-stroke:0.2px #fafafa;">Terminal</div>
<div class="tx" style="left:79.00px;top:787.00px;font-size:29.7px;line-height:29.7px;font-weight:400;color:#fafafa;letter-spacing:-0.550px;-webkit-text-stroke:0.2px #fafafa;">Process</div>
<div class="tx" style="left:78.00px;top:851.00px;font-size:29.7px;line-height:29.7px;font-weight:400;color:#fafafa;letter-spacing:0.167px;-webkit-text-stroke:0.2px #fafafa;">Inspect</div>
<div class="tx" style="left:80.00px;top:915.00px;font-size:29.7px;line-height:29.7px;font-weight:400;color:#fafafa;letter-spacing:-0.250px;-webkit-text-stroke:0.2px #fafafa;">Stats</div>
<div class="tx" style="left:79.00px;top:979.00px;font-size:29.7px;line-height:29.7px;font-weight:400;color:#fafafa;letter-spacing:-0.500px;-webkit-text-stroke:0.2px #fafafa;">Logs</div>
<div class="tx" style="left:79.00px;top:1043.00px;font-size:29.7px;line-height:29.7px;font-weight:400;color:#fafafa;letter-spacing:-0.667px;-webkit-text-stroke:0.2px #fafafa;">File</div>
<div class="tx" style="left:31.30px;top:660.10px;font-size:26px;line-height:26px;font-weight:700;color:#b4b4b8;transform:scaleX(0.9096);transform-origin:1.0px 0;">Actions</div>
<div class="tx" style="left:32.20px;top:1124.20px;font-size:26px;line-height:26px;font-weight:700;color:#b4b4b8;transform:scaleX(0.9209);transform-origin:1.0px 0;">Containers</div>
<div class="tx" style="left:183.70px;top:1125.20px;font-size:25px;line-height:25px;font-weight:700;color:#c4c4c8;transform:scaleX(0.6917);transform-origin:1.0px 0;">1</div>
<div class="tx" style="left:32.20px;top:1187.70px;font-size:28px;line-height:28px;font-weight:400;color:#18181b;letter-spacing:1.350px;-webkit-text-stroke:0.2px #18181b;">exlo-postgres-for-dev</div>
<div class="tx" style="left:709.50px;top:50.00px;font-size:28px;line-height:28px;font-weight:400;color:#fafafa;letter-spacing:1.050px;-webkit-text-stroke:0.2px #fafafa;">exlo-postgres-for-dev</div>
<div class="tx" style="left:594.00px;top:167.30px;font-size:30px;line-height:30px;font-weight:700;color:#fafafa;transform:scaleX(0.8723);transform-origin:1.0px 0;">Containers</div>
<div class="tx" style="left:1057.00px;top:171.30px;font-size:30px;line-height:30px;font-weight:700;color:#fafafa;transform:scaleX(0.8980);transform-origin:2.0px 0;">Images</div>
<div class="tx" style="left:1523.00px;top:167.30px;font-size:30px;line-height:30px;font-weight:700;color:#fafafa;transform:scaleX(0.8737);transform-origin:0.0px 0;">Total Image Size</div>
<div class="tx" style="left:1985.00px;top:167.30px;font-size:30px;line-height:30px;font-weight:700;color:#fafafa;transform:scaleX(0.8814);transform-origin:2.0px 0;">Images In Use</div>
<div class="tx" style="left:593.00px;top:435.00px;font-size:30px;line-height:30px;font-weight:700;color:#fafafa;transform:scaleX(0.8791);transform-origin:2.0px 0;">Docker Version</div>
<div class="tx" style="left:1058.00px;top:435.00px;font-size:30px;line-height:30px;font-weight:700;color:#fafafa;transform:scaleX(0.8761);transform-origin:1.0px 0;">Storage Driver</div>
<div class="tx" style="left:1522.00px;top:435.00px;font-size:30px;line-height:30px;font-weight:700;color:#fafafa;transform:scaleX(0.8707);transform-origin:1.0px 0;">System Resources</div>
<div class="tx" style="left:1986.00px;top:435.00px;font-size:30px;line-height:30px;font-weight:700;color:#fafafa;transform:scaleX(0.8843);transform-origin:1.0px 0;">Operating System</div>
<div class="tx" style="left:594.00px;top:703.00px;font-size:30px;line-height:30px;font-weight:700;color:#fafafa;transform:scaleX(0.8863);transform-origin:1.0px 0;">CPU Usage</div>
<div class="tx" style="left:1521.00px;top:703.00px;font-size:30px;line-height:30px;font-weight:700;color:#fafafa;transform:scaleX(0.8986);transform-origin:2.0px 0;">Memory Usage</div>
<div class="tx" style="left:593.00px;top:1179.00px;font-size:30px;line-height:30px;font-weight:700;color:#fafafa;transform:scaleX(0.8982);transform-origin:2.0px 0;">Network I/O</div>
<div class="tx" style="left:1521.00px;top:1179.00px;font-size:30px;line-height:30px;font-weight:700;color:#fafafa;transform:scaleX(0.8780);transform-origin:2.0px 0;">Disk I/O</div>
<div class="tx" style="left:592.00px;top:226.20px;font-size:50px;line-height:50px;font-weight:700;color:#fafafa;">1</div>
<div class="tx" style="left:1056.00px;top:234.00px;font-size:50px;line-height:50px;font-weight:700;color:#fafafa;transform:scaleX(1.0098);transform-origin:3.0px 0;">15</div>
<div class="tx" style="left:1522.50px;top:226.20px;font-size:50px;line-height:50px;font-weight:700;color:#fafafa;transform:scaleX(0.8884);transform-origin:1.0px 0;">3.1 GB</div>
<div class="tx" style="left:1984.00px;top:226.20px;font-size:50px;line-height:50px;font-weight:700;color:#fafafa;">1</div>
<div class="tx" style="left:593.00px;top:494.00px;font-size:50px;line-height:50px;font-weight:700;color:#fafafa;transform:scaleX(1.0504);transform-origin:2.0px 0;">28.5.2</div>
<div class="tx" style="left:1057.00px;top:494.00px;font-size:50px;line-height:50px;font-weight:700;color:#fafafa;transform:scaleX(0.9482);transform-origin:2.0px 0;">overlay2</div>
<div class="tx" style="left:1520.00px;top:494.00px;font-size:50px;line-height:50px;font-weight:700;color:#fafafa;transform:scaleX(0.9475);transform-origin:3.0px 0;">10 CPUs</div>
<div class="tx" style="left:1986.00px;top:494.00px;font-size:37.7px;line-height:37.7px;font-weight:700;color:#fafafa;transform:scaleX(0.9675);transform-origin:1.0px 0;">OrbStack</div>
<div class="tx" style="left:593.00px;top:762.00px;font-size:50px;line-height:50px;font-weight:700;color:#fafafa;transform:scaleX(1.0270);transform-origin:2.0px 0;">0.0%</div>
<div class="tx" style="left:1522.00px;top:762.00px;font-size:50px;line-height:50px;font-weight:700;color:#fafafa;transform:scaleX(1.0187);transform-origin:1.0px 0;">48.09 MB</div>
<div class="tx" style="left:594.50px;top:285.00px;font-size:25px;line-height:25px;font-weight:400;color:#a1a1aa;letter-spacing:0.500px;-webkit-text-stroke:0.2px #a1a1aa;">33 of total containers</div>
<div class="tx" style="left:1059.00px;top:292.60px;font-size:25px;line-height:25px;font-weight:400;color:#a1a1aa;letter-spacing:0.036px;-webkit-text-stroke:0.2px #a1a1aa;">Total images</div>
<div class="tx" style="left:1523.50px;top:284.70px;font-size:25px;line-height:25px;font-weight:400;color:#a1a1aa;letter-spacing:0.133px;-webkit-text-stroke:0.2px #a1a1aa;">Total storage used by images</div>
<div class="tx" style="left:1985.00px;top:285.00px;font-size:25px;line-height:25px;font-weight:400;color:#a1a1aa;letter-spacing:0.188px;-webkit-text-stroke:0.2px #a1a1aa;">Images used by containers</div>
<div class="tx" style="left:595.00px;top:553.00px;font-size:25px;line-height:25px;font-weight:400;color:#a1a1aa;letter-spacing:0.041px;-webkit-text-stroke:0.2px #a1a1aa;">API: linux/aarch64</div>
<div class="tx" style="left:1058.00px;top:553.00px;font-size:25px;line-height:25px;font-weight:400;color:#a1a1aa;letter-spacing:0.387px;-webkit-text-stroke:0.2px #a1a1aa;">Cgroup: cgroupfs</div>
<div class="tx" style="left:1521.00px;top:553.60px;font-size:25px;line-height:25px;font-weight:400;color:#a1a1aa;letter-spacing:-0.386px;-webkit-text-stroke:0.2px #a1a1aa;">Memory: 7.81 GB</div>
<div class="tx" style="left:1985.00px;top:545.00px;font-size:25px;line-height:25px;font-weight:400;color:#a1a1aa;letter-spacing:0.200px;-webkit-text-stroke:0.2px #a1a1aa;">Kernel: 6.17.8-orbstack-</div>
<div class="tx" style="left:1986.00px;top:577.00px;font-size:25px;line-height:25px;font-weight:400;color:#a1a1aa;letter-spacing:0.589px;-webkit-text-stroke:0.2px #a1a1aa;">00308-g8f9c941121b1</div>
<div class="tx" style="left:593.30px;top:1244.50px;font-size:24.2px;line-height:24.2px;font-weight:400;color:#a1a1aa;letter-spacing:0.662px;-webkit-text-stroke:0.2px #a1a1aa;">Download:</div>
<div class="tx" style="left:718.80px;top:1237.50px;font-size:33px;line-height:33px;font-weight:700;color:#fafafa;transform:scaleX(0.9771);transform-origin:2.0px 0;">1.63 KB</div>
<div class="tx" style="left:867.80px;top:1244.50px;font-size:24.2px;line-height:24.2px;font-weight:400;color:#a1a1aa;letter-spacing:0.783px;-webkit-text-stroke:0.2px #a1a1aa;">Upload:</div>
<div class="tx" style="left:962.70px;top:1237.50px;font-size:33px;line-height:33px;font-weight:700;color:#fafafa;transform:scaleX(0.9847);transform-origin:2.0px 0;">126 B</div>
<div class="tx" style="left:1521.00px;top:1244.50px;font-size:24.2px;line-height:24.2px;font-weight:400;color:#a1a1aa;letter-spacing:0.250px;-webkit-text-stroke:0.2px #a1a1aa;">Read:</div>
<div class="tx" style="left:1593.00px;top:1237.50px;font-size:33px;line-height:33px;font-weight:700;color:#fafafa;transform:scaleX(1.0377);transform-origin:1.0px 0;">543.74 MB</div>
<div class="tx" style="left:1792.50px;top:1244.50px;font-size:24.2px;line-height:24.2px;font-weight:400;color:#a1a1aa;letter-spacing:0.840px;-webkit-text-stroke:0.2px #a1a1aa;">Write:</div>
<div class="tx" style="left:1865.90px;top:1237.50px;font-size:33px;line-height:33px;font-weight:700;color:#fafafa;transform:scaleX(1.0203);transform-origin:1.0px 0;">2.22 MB</div>
<div class="tx" style="left:1884.50px;top:962.20px;font-size:26px;line-height:26px;font-weight:700;color:#fafafa;transform:scaleX(0.9495);transform-origin:1.0px 0;">13:04:21</div>
<div class="tx" style="left:1920.00px;top:1003.70px;font-size:24px;line-height:24px;font-weight:400;color:#a1a1aa;letter-spacing:0.818px;-webkit-text-stroke:0.2px #a1a1aa;">Memory Usage</div>
<div class="tx" style="left:2107.60px;top:1004.70px;font-size:25.3px;line-height:25.3px;font-weight:700;color:#fafafa;font-family:'Liberation Mono';transform:scaleX(0.9725);transform-origin:1.0px 0;">40.99 MB</div>
</div>
</body></html>
